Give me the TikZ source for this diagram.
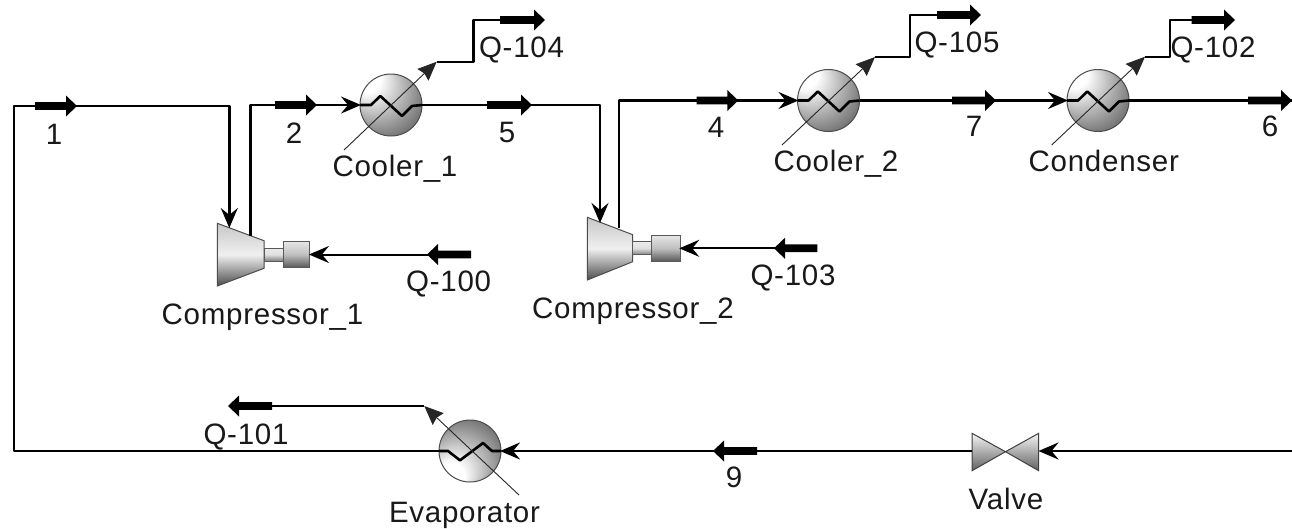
\documentclass[tikz,border=0pt]{standalone}
\usepackage{fontspec}
\setmainfont[LetterSpace=2.5]{Liberation Sans}
\usetikzlibrary{arrows.meta}
\pgfdeclareradialshading{hxup}{\pgfpoint{-25bp}{27bp}}{color(0bp)=(white); color(11bp)=(white); color(23bp)=(black!28); color(34bp)=(black!52); color(43bp)=(black!68); color(50bp)=(black!92)}
\pgfdeclareradialshading{hxdown}{\pgfpoint{-20bp}{-26bp}}{color(0bp)=(white); color(11bp)=(white); color(23bp)=(black!28); color(34bp)=(black!52); color(43bp)=(black!68); color(50bp)=(black!92)}
\tikzset{
  flow/.style={line width=2.6pt,black,line join=round},
  inlet/.style={flow,-{Stealth[length=20pt,width=17pt,inset=7pt]},shorten >=-1pt},
  heat/.style={line width=0.9pt,black!85,-{Stealth[length=19pt,width=16pt,inset=2pt,fill=black!85]}},
  heatline/.style={line width=2.4pt,black,line join=round},
  hx/.style={circle,minimum size=62pt,inner sep=0pt,outer sep=0pt,draw=black!70,line width=1pt},
  coil/.style={line width=2.6pt,black,line join=round},
  label/.style={anchor=base,inner sep=0pt,font=\fontsize{29.5}{30}\selectfont,text=black!90},
  casing/.style={draw=black!70,line width=1pt,top color=black!22,bottom color=black!70,middle color=black!6},
  shaft/.style={draw=black!65,line width=1pt,top color=black!8,bottom color=black!50,middle color=black!12},
  motor/.style={rectangle,inner sep=0pt,outer sep=0pt,draw=black!65,line width=1pt,top color=black!10,bottom color=black!65,middle color=black!25},
  valvepart/.style={draw=black!75,line width=1pt,top color=black!4,bottom color=black!62},
}
\newcommand{\blockR}[3]{\fill[black] (#1,#3-3.9) -- (#2-11,#3-3.9) -- (#2-11,#3-10.5) -- (#2,#3) -- (#2-11,#3+10.5) -- (#2-11,#3+3.9) -- (#1,#3+3.9) -- cycle;}
\newcommand{\blockL}[3]{\fill[black] (#1,#3-3.9) -- (#2+11,#3-3.9) -- (#2+11,#3-10.5) -- (#2,#3) -- (#2+11,#3+10.5) -- (#2+11,#3+3.9) -- (#1,#3+3.9) -- cycle;}
\newcommand{\coilUp}[2]{\draw[coil] (#1-31,#2) -- (#1-20,#2) -- (#1-10.7,#2-9) -- (#1+11,#2+11) -- (#1+21,#2+1) -- (#1+31,#2);}
\newcommand{\coilDown}[2]{\draw[coil] (#1-31,#2) -- (#1-22,#2) -- (#1-10,#2+9.3) -- (#1+13,#2-8) -- (#1+22,#2) -- (#1+31,#2);}
\begin{document}
\begin{tikzpicture}[x=1pt,y=-1pt]
\useasboundingbox (0,0) rectangle (1292,528);
\fill[white] (0,0) rectangle (1292,528);

% Exchangers
\node[hx,shading=hxup] (cool1) at (391,105) {};
\node[hx,shading=hxup] (cool2) at (828.5,100.5) {};
\node[hx,shading=hxup] (cond) at (1098,100.5) {};
\node[hx,shading=hxdown] (evap) at (470,451) {};

% Compressor 1
\draw[casing] (217.3,223.3) -- (264,240.7) -- (264,268.3) -- (217.3,286) -- cycle;
\draw[shaft] (264,248) rectangle (283.5,261);
\node[motor,minimum width=26.5pt,minimum height=25.5pt] (mot1) at (296.7,254.5) {};
% Compressor 2
\draw[casing] (587.3,217.3) -- (632.7,234.7) -- (632.7,261.7) -- (587.3,280) -- cycle;
\draw[shaft] (632.7,241.5) rectangle (652,254.7);
\node[motor,minimum width=28.5pt,minimum height=25.5pt] (mot2) at (666,248.3) {};
% Valve
\draw[valvepart] (972,433.3) -- (1005.5,451.7) -- (972,470.7) -- cycle;
\draw[valvepart] (1038.7,433.3) -- (1005.5,451.7) -- (1038.7,470.7) -- cycle;

% Named junctions
\coordinate (loopb) at (14,451);
\coordinate (loopt) at (14,106);
\coordinate (c1in0) at (229.3,106);
\coordinate (c1in) at (229.3,227);
\coordinate (c1out) at (250.7,236);
\coordinate (c1up) at (250.7,105);
\coordinate (c2top) at (600,105);
\coordinate (c2in) at (600,222);
\coordinate (c2out) at (619,228);
\coordinate (c2up) at (619,100.5);
\coordinate (out6) at (1292,100.5);
\coordinate (right9) at (1292,451);
\coordinate (vleft) at (972,451);
\coordinate (vright) at (1039.5,451);
\coordinate (q100s) at (440,254.5);
\coordinate (q103s) at (786,248.3);

% Process streams
\draw[inlet] (evap.west) -- (loopb) -- (loopt) -- (c1in0) -- (c1in);
\draw[inlet] (c1out) -- (c1up) -- (cool1.west);
\draw[inlet] (cool1.east) -- (c2top) -- (c2in);
\draw[inlet] (c2out) -- (c2up) -- (cool2.west);
\draw[inlet] (cool2.east) -- (cond.west);
\draw[flow] (cond.east) -- (out6);
\draw[inlet] (right9) -- (vright);
\draw[inlet] (vleft) -- (evap.east);

% Coils
\coilUp{391}{105}
\coilUp{828.5}{100.5}
\coilUp{1098}{100.5}
\coilDown{470}{451}

% Energy streams
\coordinate (h1a) at (344,150); \coordinate (h1b) at (436.7,61.7);
\coordinate (h1c) at (473.3,61.7); \coordinate (h1d) at (473.3,20); \coordinate (h1e) at (510,20);
\draw[heat] (h1a) -- (h1b);
\draw[heatline] (h1b) -- (h1c) -- (h1d) -- (h1e);
\coordinate (h2a) at (782,145); \coordinate (h2b) at (875,57);
\coordinate (h2c) at (910,57); \coordinate (h2d) at (910,15); \coordinate (h2e) at (945,15);
\draw[heat] (h2a) -- (h2b);
\draw[heatline] (h2b) -- (h2c) -- (h2d) -- (h2e);
\coordinate (h3a) at (1051.7,145); \coordinate (h3b) at (1145,56.7);
\coordinate (h3c) at (1170,56.7); \coordinate (h3d) at (1170,20); \coordinate (h3e) at (1200,20);
\draw[heat] (h3a) -- (h3b);
\draw[heatline] (h3b) -- (h3c) -- (h3d) -- (h3e);
\coordinate (h4a) at (519,495); \coordinate (h4b) at (424.3,406); \coordinate (h4c) at (262,406);
\draw[heat] (h4a) -- (h4b);
\draw[heatline] (h4b) -- (h4c);
\draw[inlet,line width=2pt] (q100s) -- (mot1.east);
\draw[inlet,line width=2pt] (q103s) -- (mot2.east);

% Block arrows on streams
\blockR{35}{77}{106}
\blockR{275}{317}{105}
\blockR{487}{532}{105}
\blockR{696.7}{738.3}{100.5}
\blockR{952}{996}{100.5}
\blockR{1248}{1292}{100.5}
\blockL{757}{713}{451}
\blockR{500}{545}{20}
\blockR{937}{981}{15}
\blockR{1191.7}{1235}{20}
\blockL{272}{228}{406}
\blockL{471}{427}{254.5}
\blockL{817.3}{774}{248.3}

% Labels
\node[label] (l1) at (54,144) {1};
\node[label] (l2) at (294,143) {2};
\node[label] (l5) at (507,142) {5};
\node[label] (l4) at (716,137) {4};
\node[label] (l7) at (974,136) {7};
\node[label] (l6) at (1270,136) {6};
\node[label] (l9) at (734,487) {9};
\node[label] (q104) at (521.5,57) {Q-104};
\node[label] (q105) at (957,52) {Q-105};
\node[label] (q102) at (1213,57) {Q-102};
\node[label] (q100) at (448.7,291) {Q-100};
\node[label] (q103) at (793,285) {Q-103};
\node[label] (q101) at (246,444) {Q-101};
\node[label] (tc1) at (395,176) {Cooler\_1};
\node[label] (tc2) at (836,171) {Cooler\_2};
\node[label] (tcd) at (1103.8,171) {Condenser};
\node[label] (tcp1) at (262.5,324) {Compressor\_1};
\node[label] (tcp2) at (633,318) {Compressor\_2};
\node[label] (tev) at (464.5,522) {Evaporator};
\node[label] (tv) at (1006,509.5) {Valve};
\end{tikzpicture}
\end{document}
